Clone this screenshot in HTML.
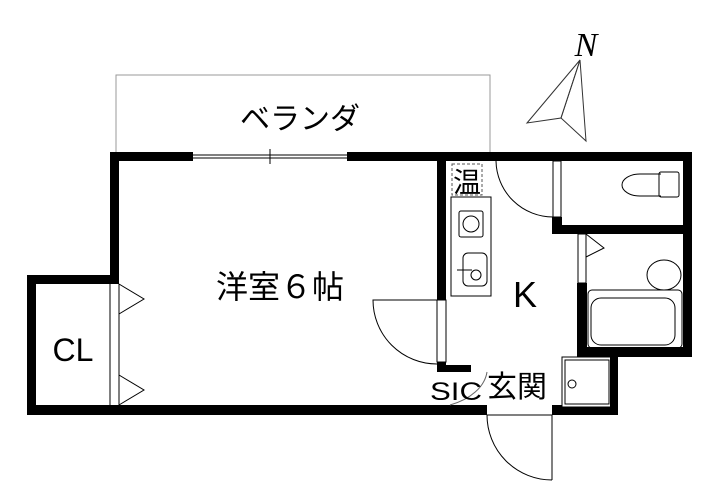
<!DOCTYPE html>
<html><head><meta charset="utf-8"><style>
html,body{margin:0;padding:0;background:#fff;}
svg{display:block}
text{font-family:"Liberation Sans","Noto Sans CJK JP",sans-serif;fill:#000}
</style></head><body>
<svg width="721" height="502" viewBox="0 0 721 502" xmlns="http://www.w3.org/2000/svg">
<rect x="116" y="75" width="374" height="80" fill="none" stroke="#999" stroke-width="1"/>
<text x="300" y="129" font-size="30" text-anchor="middle">ベランダ</text>
<polygon points="580,60 527,123 561,118" fill="none" stroke="#333" stroke-width="1"/>
<polygon points="580,60 561,118 586,141" fill="none" stroke="#333" stroke-width="1"/>
<text x="586" y="56" font-size="34" font-style="italic" style="font-family:'Liberation Serif',serif" text-anchor="middle">N</text>
<g fill="#000">
<rect x="110" y="152" width="582" height="9"/>
<rect x="193" y="152" width="154" height="9" fill="#fff"/>
<rect x="110" y="152" width="9" height="132"/>
<rect x="27" y="275" width="92" height="9"/>
<rect x="27" y="275" width="9" height="140"/>
<rect x="27" y="405" width="460" height="10"/>
<rect x="437" y="152" width="9" height="148"/>
<rect x="437" y="362" width="9" height="10"/>
<rect x="437" y="365" width="34" height="7"/>
<rect x="552" y="217" width="10" height="17"/>
<rect x="552" y="225" width="140" height="9"/>
<rect x="683" y="152" width="9" height="205"/>
<rect x="577" y="283" width="10" height="74"/>
<rect x="577" y="347" width="115" height="10"/>
<rect x="552" y="405" width="10" height="10"/>
<rect x="610" y="357" width="8" height="58"/>
<rect x="562" y="407" width="56" height="8"/>
</g>
<g fill="none" stroke="#000" stroke-width="1">
<line x1="193" y1="155" x2="347" y2="155"/><line x1="193" y1="158" x2="347" y2="158"/>
<line x1="270" y1="149" x2="270" y2="164"/>
<line x1="110" y1="284" x2="110" y2="405"/><line x1="119" y1="284" x2="119" y2="405"/>
<polyline points="119,284 144,299 119,314"/><polyline points="119,375 144,390 119,405"/>
<rect x="437" y="300" width="9" height="62"/>
<path d="M437,300 L373,300 A64,64 0 0 0 437,364"/>
<rect x="553" y="161" width="8" height="56"/>
<path d="M496,161 A57,57 0 0 0 553,217"/>
<rect x="578" y="234" width="8" height="49"/>
<polyline points="586,234 604,248 586,257"/>
<rect x="451" y="197" width="40" height="99"/>
<rect x="459" y="211" width="24" height="26" rx="2"/><circle cx="471" cy="224" r="8"/>
<rect x="463" y="253" width="24" height="33" rx="5"/><circle cx="476" cy="275" r="5"/>
<line x1="457" y1="270" x2="472" y2="270"/>
<rect x="452" y="164" width="30" height="31" stroke-dasharray="3,2" stroke="#555"/>
<path d="M661,174 L640,174 A18,11 0 0 0 640,196 L661,196"/>
<rect x="659" y="172" width="20" height="25" rx="2"/>
<rect x="588" y="290" width="94" height="58" rx="4"/>
<rect x="591" y="298" width="84" height="47" rx="10"/>
<ellipse cx="664" cy="275" rx="17" ry="15"/>
<rect x="562" y="357" width="50" height="50"/>
<rect x="565" y="360" width="44" height="44"/>
<circle cx="572" cy="384" r="4"/>
<path d="M487,372 A60,40 0 0 1 450,405" stroke="#666"/>
<line x1="487" y1="415" x2="552" y2="415"/>
<line x1="552" y1="415" x2="552" y2="480"/>
<path d="M487,415 A65,65 0 0 0 552,480"/>
</g>
<text x="453" y="192" font-size="28">温</text>
<text x="280" y="298" font-size="32" text-anchor="middle">洋室６帖</text>
<text x="525" y="307" font-size="36" text-anchor="middle">K</text>
<text x="73" y="361" font-size="32" text-anchor="middle">CL</text>
<text x="430" y="400" font-size="25" textLength="52" lengthAdjust="spacingAndGlyphs">SIC</text>
<text x="487" y="397" font-size="30">玄関</text>
</svg>
</body></html>
